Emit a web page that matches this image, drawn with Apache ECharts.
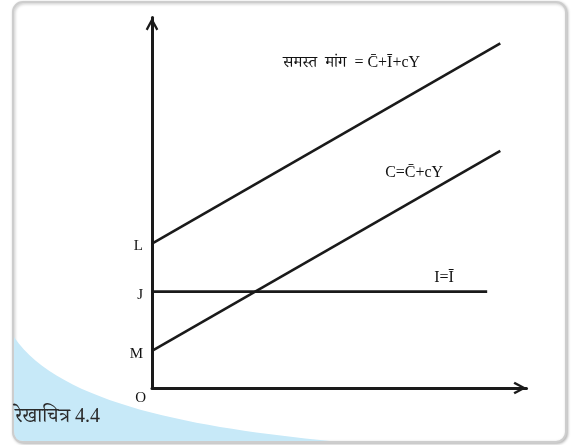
<!DOCTYPE html>
<html>
<head>
<meta charset="utf-8">
<script src="https://cdn.jsdelivr.net/npm/echarts@6/dist/echarts.min.js"></script>
<style>
  html, body { margin: 0; padding: 0; background: #fff; }
  #chart { width: 577px; height: 445px; }
</style>
</head>
<body>
<div id="chart"></div>
<script>
// रेखाचित्र 4.4 - समस्त मांग, उपभोग और निवेश
const xMax = 100
const yMax = 100
const aggregateDemand = [[0, 39], [93, 93]]
const consumption = [[0, 10], [93, 64]]
const investment = [[0, 26], [89.5, 26]]
const interceptValues = [0, 10, 26, 39]
const interceptLabels = ['O', 'M', 'J', 'L']
const lineNotes = ['समस्त  मांग  = C\u0304+I\u0304+cY', 'C=C\u0304+cY', 'I=I\u0304']
const noteAnchors = [[53.3, 87.8], [70, 58.1], [78, 29.7]]
const figureTitle = 'रेखाचित्र 4.4'

const serif = "'Liberation Serif', 'DejaVu Serif', 'Noto Serif Devanagari', 'Noto Sans Devanagari', serif"
const chevron = 'path://M0,13 L7,0 L14,13 L11.8,14.4 L7,5.2 L2.2,14.4 Z'

// नीला कोना (सजावट)
const CornerShape = echarts.graphic.extendShape({
  shape: {},
  buildPath(ctx) {
    ctx.moveTo(14, 337)
    ctx.bezierCurveTo(60, 405, 200, 428, 330, 441)
    ctx.lineTo(24, 441)
    ctx.quadraticCurveTo(14, 441, 14, 431)
    ctx.closePath()
  }
})
echarts.graphic.registerShape('blueCorner', CornerShape)

const chart = echarts.init(document.getElementById('chart'))

const lineStyle = { color: '#1a1a1a', width: 2.6 }
const makeLine = (name, data) => ({
  name: name,
  type: 'line',
  data: data,
  symbol: 'none',
  lineStyle: lineStyle,
  silent: true,
  z: 3
})

const option = {
  animation: false,
  backgroundColor: '#fff',
  graphic: [
    {
      type: 'rect',
      z: -10,
      shape: { x: 13, y: 2, width: 553, height: 440, r: 10 },
      style: {
        fill: '#fff',
        stroke: '#cdcdcd',
        lineWidth: 2,
        shadowBlur: 3,
        shadowOffsetX: 1,
        shadowOffsetY: 1,
        shadowColor: 'rgba(0,0,0,0.25)'
      }
    },
    {
      type: 'blueCorner',
      z: -9,
      shape: {},
      style: { fill: '#c7e9f8' }
    },
    {
      type: 'text',
      z: 5,
      left: 15,
      top: 407,
      style: { text: figureTitle, font: '20px ' + serif, fill: '#2a2a2a' }
    }
  ],
  grid: { left: 152, right: 50.5, top: 17.5, bottom: 57 },
  xAxis: {
    type: 'value',
    min: 0,
    max: xMax,
    axisLine: {
      lineStyle: { color: '#1a1a1a', width: 3 },
      symbol: ['none', chevron],
      symbolSize: [14, 13],
      symbolOffset: [0, -6.5]
    },
    axisTick: { show: false },
    axisLabel: { show: false },
    splitLine: { show: false }
  },
  yAxis: {
    type: 'value',
    min: 0,
    max: yMax,
    axisLine: {
      show: true,
      lineStyle: { color: '#1a1a1a', width: 3 },
      symbol: ['none', chevron],
      symbolSize: [14, 13],
      symbolOffset: [0, -6.5]
    },
    axisTick: { show: false },
    splitLine: { show: false },
    axisLabel: {
      customValues: interceptValues,
      margin: 9,
      color: '#111',
      fontFamily: serif,
      fontSize: 15,
      padding: [6, 0, 0, 0],
      formatter: v => {
        const i = interceptValues.indexOf(v)
        return i === 0 ? '{o|' + interceptLabels[i] + '}' : interceptLabels[i]
      },
      rich: {
        o: { fontFamily: serif, fontSize: 15, color: '#111', padding: [14, -3, 0, 0] }
      }
    }
  },
  series: [
    makeLine('समस्त मांग', aggregateDemand),
    makeLine('उपभोग', consumption),
    makeLine('निवेश', investment),
    {
      name: 'notes',
      type: 'scatter',
      silent: true,
      symbolSize: 0,
      itemStyle: { opacity: 1 },
      data: noteAnchors.map((p, i) => ({ value: p, name: lineNotes[i] })),
      label: {
        show: true,
        position: 'inside',
        formatter: p => p.name,
        color: '#111',
        opacity: 1,
        fontFamily: serif,
        fontSize: 16
      },
      z: 4
    }
  ]
}

chart.setOption(option)
</script>
</body>
</html>
